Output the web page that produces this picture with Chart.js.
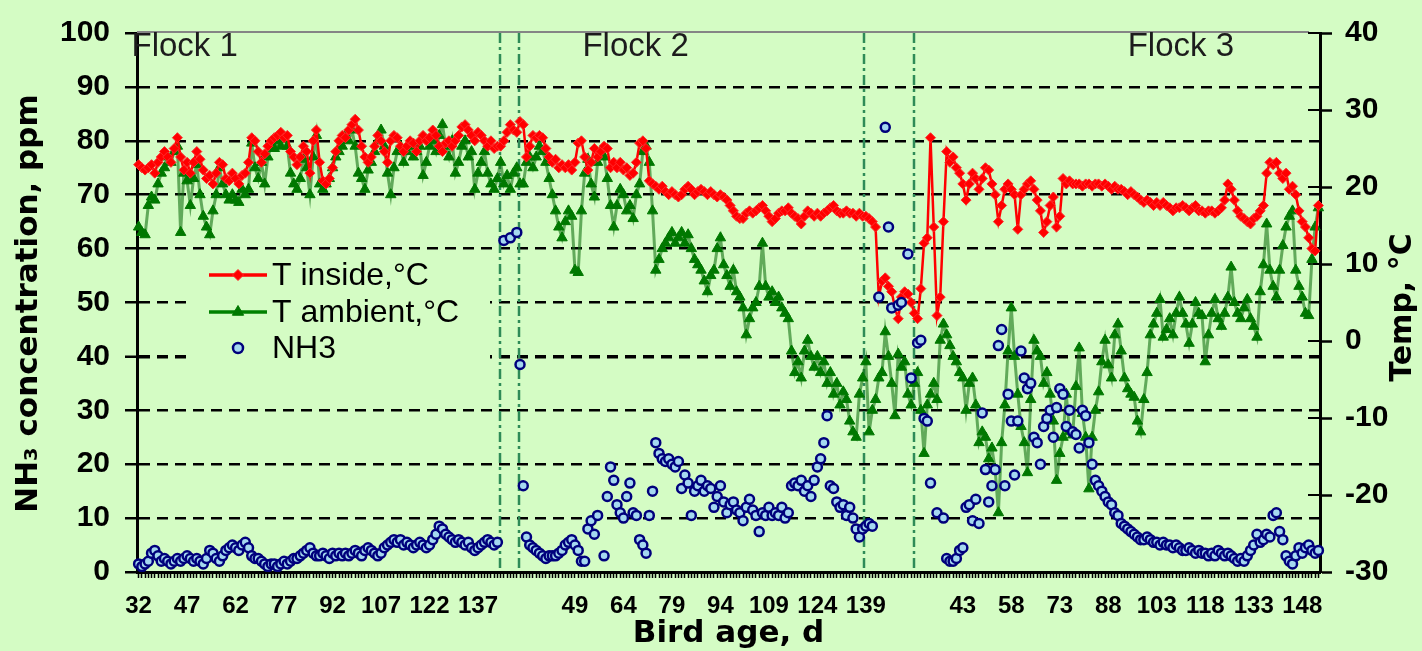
<!DOCTYPE html>
<html>
<head>
<meta charset="utf-8">
<title>NH3 and temperature by bird age</title>
<script src="https://cdn.jsdelivr.net/npm/chart.js@4.4.1/dist/chart.umd.min.js"></script>
<style>
  html, body { margin: 0; padding: 0; background: rgb(212, 252, 196); }
  canvas { display: block; }
</style>
</head>
<body>
<canvas id="chart" width="1422" height="651"></canvas>
<script>
// Bird age (days) on the category axis: first and last age of each flock,
// with empty slots between consecutive flocks.
const flockAges = [[32, 143], [35, 153], [29, 153]];
const gapSlots = [9, 1];

// Category positions of the flock separators and of the flock titles.
const flockBreaks = [111.7, 117.8, 224.3, 240];
const flockTitles = ['Flock 1', 'Flock 2', 'Flock 3'];
const flockTitleAt = [-2.2, 137.3, 306];

// Inside air temperature, °C (one value per day)
const tInside = [
  22.9, 22.5, 22.2, 22.5, 22.9, 21.8, 23.2, 23.9, 24.6, 23.9,
  23.2, 25.0, 26.4, 23.9, 22.2, 23.2, 21.8, 23.2, 24.6, 23.6,
  22.2, 21.1, 21.5, 20.4, 21.8, 23.2, 22.9, 21.1, 20.8, 21.8,
  21.1, 20.4, 21.5, 21.8, 23.2, 26.4, 26.0, 24.6, 23.2, 24.3,
  25.3, 26.0, 26.4, 26.7, 27.1, 26.4, 26.7, 24.6, 23.9, 22.9,
  23.9, 25.3, 24.6, 21.8, 26.0, 27.4, 23.2, 20.8, 20.4, 21.1,
  22.5, 24.6, 26.0, 26.7, 26.4, 27.4, 28.1, 28.8, 27.4, 25.3,
  23.9, 23.2, 23.9, 25.3, 26.7, 26.0, 24.6, 23.2, 26.0, 26.7,
  26.4, 25.3, 24.6, 25.3, 26.0, 25.7, 24.6, 26.0, 26.7, 26.0,
  26.4, 27.4, 26.7, 25.3, 24.6, 25.7, 26.0, 25.3, 26.0, 26.7,
  27.8, 28.1, 27.4, 26.7, 26.0, 27.1, 26.7, 26.0, 25.3, 26.0,
  25.0, 25.3, 25.3, 26.0, 27.1, 28.1, 27.4, 27.1, 28.5, 28.1,
  23.9, 25.3, 26.7, 26.4, 26.7, 26.4, 25.0, 23.9, 23.2, 23.6,
  22.5, 22.9, 22.5, 22.9, 22.2, 23.2, 25.7, 26.0, 23.9, 22.2,
  23.2, 25.0, 23.9, 24.6, 25.3, 25.0, 22.5, 23.2, 22.5, 23.2,
  22.2, 22.5, 21.5, 21.8, 23.2, 25.7, 26.0, 25.0, 20.8, 20.4,
  20.1, 19.7, 20.1, 19.4, 19.0, 19.4, 19.0, 18.7, 19.0, 19.7,
  20.1, 19.7, 19.0, 19.4, 19.7, 19.4, 19.0, 19.4, 19.0, 18.7,
  19.0, 18.7, 18.3, 17.6, 16.9, 16.2, 15.9, 15.9, 16.6, 16.9,
  16.6, 16.9, 17.3, 17.6, 16.9, 16.2, 15.5, 15.9, 16.6, 16.9,
  16.9, 17.3, 16.6, 16.2, 15.9, 15.2, 16.2, 16.9, 16.6, 16.2,
  16.6, 16.2, 16.6, 16.9, 17.3, 17.6, 16.9, 16.6, 16.6, 16.9,
  16.6, 16.6, 16.2, 16.6, 16.2, 16.2, 15.9, 15.5, 14.8, 5.7,
  7.8, 8.2, 7.1, 6.4, 4.3, 2.9, 5.7, 6.4, 6.1, 5.0,
  3.6, 2.9, 6.8, 12.7, 13.4, 26.4, 14.8, 3.3, 5.7, 15.5,
  24.6, 23.2, 23.9, 22.5, 21.8, 20.4, 18.3, 20.4, 21.8, 21.1,
  19.7, 21.1, 22.5, 22.2, 20.4, 19.0, 15.5, 17.6, 19.7, 20.4,
  19.7, 19.0, 14.5, 19.0, 19.7, 20.4, 20.8, 19.7, 18.3, 16.9,
  14.1, 15.5, 17.6, 18.7, 14.8, 16.2, 21.1, 20.4, 20.8, 20.4,
  20.4, 20.4, 20.1, 20.4, 20.4, 20.1, 20.4, 20.4, 20.1, 20.4,
  20.1, 19.7, 20.1, 19.7, 19.7, 19.4, 19.0, 19.4, 19.0, 18.7,
  18.3, 18.0, 18.3, 18.0, 17.6, 18.0, 17.6, 18.0, 17.6, 17.3,
  16.9, 17.3, 17.3, 17.6, 17.3, 16.9, 17.3, 17.6, 16.9, 16.9,
  16.6, 16.9, 16.9, 16.6, 16.9, 17.3, 18.3, 20.4, 19.7, 18.3,
  16.9, 16.2, 15.9, 15.5, 15.2, 15.9, 16.2, 16.9, 17.6, 21.8,
  23.2, 22.9, 23.2, 21.8, 21.1, 21.8, 19.7, 20.1, 19.0, 16.9,
  15.5, 14.8, 13.4, 12.0, 11.7, 17.6
];

// Outside (ambient) air temperature, °C
const tAmbient = [
  14.8, 14.1, 13.8, 17.6, 18.7, 18.3, 20.4, 21.8, 22.5, 23.9,
  23.2, 24.6, 25.3, 14.1, 21.8, 20.8, 17.6, 21.1, 22.9, 19.0,
  16.2, 14.8, 13.8, 16.9, 19.0, 22.5, 20.4, 19.0, 18.3, 19.0,
  18.3, 18.0, 19.7, 19.0, 19.7, 25.7, 22.5, 21.1, 23.2, 20.4,
  23.9, 25.3, 25.0, 26.0, 25.3, 26.4, 25.3, 21.8, 20.4, 19.7,
  21.1, 23.6, 22.5, 19.0, 23.9, 26.7, 20.4, 19.7, 20.4, 21.1,
  22.5, 23.9, 24.6, 25.3, 26.7, 26.0, 27.4, 25.3, 21.8, 21.1,
  19.7, 22.2, 23.2, 24.6, 26.0, 27.4, 25.3, 21.8, 19.0, 22.5,
  24.6, 25.3, 23.2, 24.6, 25.3, 23.9, 24.6, 25.3, 21.5, 23.2,
  25.3, 26.0, 24.6, 26.7, 28.1, 25.3, 23.9, 26.0, 21.8, 23.2,
  25.3, 26.0, 23.9, 24.6, 19.7, 21.8, 23.2, 24.6, 21.8, 20.4,
  19.7, 21.1, 23.2, 20.4, 21.5, 19.7, 21.8, 22.5, 20.4, 20.4,
  23.2, 23.9, 22.5, 23.9, 25.3, 24.6, 23.2, 21.1, 19.0, 16.9,
  14.8, 13.4, 15.5, 16.9, 16.2, 9.2, 8.9, 16.9, 21.8, 23.6,
  20.4, 18.7, 23.2, 24.6, 23.9, 21.1, 17.6, 14.8, 17.6, 19.7,
  19.0, 16.9, 17.6, 15.9, 19.0, 20.4, 24.6, 25.3, 23.2, 16.9,
  9.2, 10.6, 12.0, 12.7, 13.4, 14.1, 12.7, 13.4, 14.1, 12.7,
  13.8, 12.0, 10.6, 9.9, 9.2, 7.8, 6.4, 8.5, 9.2, 12.0,
  13.4, 9.9, 8.5, 7.1, 9.2, 6.4, 5.7, 4.3, 0.8, 2.9,
  4.3, 5.0, 7.1, 12.7, 7.1, 5.7, 6.4, 5.0, 5.7, 4.3,
  3.6, 2.9, -1.3, -4.1, -2.7, -4.8, -1.3, 0.1, -2.0, -3.4,
  -2.0, -4.1, -2.7, -5.5, -4.1, -6.9, -5.5, -8.3, -6.6, -7.6,
  -10.4, -11.8, -12.5, -6.9, -4.8, -2.7, -11.8, -9.0, -7.6, -4.8,
  -4.1, 1.2, -2.0, -5.5, -9.7, -1.7, -3.4, -2.7, -6.9, -8.3,
  -5.5, -4.1, -9.0, -14.6, -8.3, -6.9, -5.5, -7.6, 0.1, 2.2,
  0.8, -0.6, -2.0, -2.7, -4.1, -4.8, -9.0, -5.5, -4.8, -8.3,
  -13.2, -11.8, -12.5, -15.3, -13.9, -16.7, -22.3, -13.2, -8.3, -1.3,
  4.3, -2.0, -6.9, -11.1, -13.2, -17.1, -7.6, 0.1, -1.3, -2.0,
  -5.5, -4.1, -6.9, -10.4, -18.1, -14.6, -12.5, -6.9, -11.8, -12.2,
  -5.9, -0.9, -9.4, -12.5, -19.2, -12.5, -9.0, -6.6, -2.7, 0.1,
  -3.1, -4.8, 0.8, 2.2, -1.3, -4.8, -6.2, -6.9, -7.3, -10.4,
  -11.8, -7.6, -4.1, 0.8, 2.2, 3.6, 5.4, 0.5, 1.5, 2.9,
  0.8, 3.6, 5.7, 3.6, 2.2, -0.3, 2.2, 5.0, 3.6, 3.3,
  -2.7, 0.8, 3.6, 5.4, 2.9, 1.9, 3.6, 5.7, 9.6, 5.0,
  3.6, 2.9, 4.3, 5.4, 2.9, 1.9, 0.5, 6.4, 9.9, 15.2,
  9.2, 7.1, 5.7, 9.2, 12.4, 14.8, 16.2, 16.9, 9.2, 7.1,
  5.7, 3.6, 3.3, 10.6, 14.8, 17.3
];

// NH3 concentration, ppm (null = no reading that day)
const nh3 = [
  1.5, 1, 1.5, 2, 3.5, 4, 3, 2, 2.5, 2,
  1.5, 2, 2.5, 2, 2.5, 3, 2.5, 2, 2.5, 2,
  1.5, 2.5, 4, 3.5, 2.5, 2, 3, 4, 4.5, 5,
  4.5, 4, 5, 5.5, 4.5, 3, 2.5, 2.5, 2, 1.5,
  1, 1.5, 1.5, 1, 1.5, 2, 1.5, 2, 2.5, 2.5,
  3, 3.5, 4, 4.5, 3.5, 3, 3, 3.5, 3, 2.5,
  3.5, 3, 3.5, 3, 3.5, 3, 3.5, 4, 3.5, 3,
  4, 4.5, 4, 3.5, 3, 3.5, 4.5, 5, 5.5, 6,
  5.5, 6, 5, 5.5, 5, 4.5, 5, 5.5, 5, 4.5,
  5, 6, 7, 8.5, 8, 7, 6.5, 6, 5.5, 6,
  5.5, 5, 5.5, 4.5, 4, 4.5, 5, 5.5, 6, 5.5,
  5, 5.5, null, 61.5, null, 62, null, 63, 38.5, 16,
  6.5, 5, 4.5, 4, 3.5, 3, 2.5, 3, 3, 3,
  3.5, 4, 5, 5.5, 6, 5, 4, 2, 2, 8,
  9.5, 7, 10.5, null, 3, 14, 19.5, 17, 12.5, 11,
  10, 14, 16.5, 11, 10.5, 6, 5, 3.5, 10.5, 15,
  24, 22, 21, 20.5, 21, 20, 19.5, 20.5, 15.5, 18,
  16.5, 10.5, 15, 16, 17, 15, 16, 15.5, 12, 14,
  16, 13, 11, 12.5, 13, 11.5, 11, 9.5, 12, 13.5,
  11.5, 10.5, 7.5, 11, 10.5, 12, 10.5, 11, 10.5, 12,
  10, 11, 16, 16.5, 16, 17, 15, 16, 14, 17,
  19.5, 21, 24, 29, 16, 15.5, 13, 12, 12.5, 10.5,
  12, 10, 8, 6.5, 8, 8.5, 9, 8.5, null, 51,
  null, 82.5, 64, 49, null, 49.5, 50, null, 59, 36,
  null, 42.5, 43, 28.5, 28, 16.5, null, 11, null, 10,
  2.5, 2, 2, 2.5, 4, 4.5, 12, 12.5, 9.5, 13.5,
  9, 29.5, 19, 13, 16, 19, 42, 45, 16, 33,
  28, 18, 28, 41, 36, 34, 35, 25, 24, 20,
  27, 28.5, 30, 25, 30.5, 34, 33, 27, 30, 26,
  25.5, 23, 30, 29, 24, 20, 17, 16, 15, 14,
  13, 12.5, 11, 10.5, 9, 8.5, 8, 7.5, 7, 6.5,
  6, 6, 6.5, 6, 5.5, 5.5, 5, 5.5, 5, 5,
  4.5, 5, 4.5, 4, 4, 4.5, 4, 3.5, 4, 3.5,
  3.5, 3, 3.5, 3, 4, 3.5, 3, 3.5, 3, 2.5,
  2, 2.5, 2, 3, 4, 5, 7, 5.5, 6, 7,
  6.5, 10.5, 11, 7.5, 6, 3, 2, 1.5, 3, 4.5,
  3.5, 4.5, 5, 4, 3.5, 4
];

// Category labels: consecutive ages per flock, blanks in between
const ageLabels = [];
flockAges.forEach(([first, last], k) => {
  for (let d = first; d <= last; d++) ageLabels.push(String(d));
  if (k < gapSlots.length) for (let g = 0; g < gapSlots[k]; g++) ageLabels.push('');
});

const BG = 'rgb(212, 252, 196)';
const TICK_FONT = "'Liberation Sans', Arial, sans-serif";
const TITLE_FONT = "'DejaVu Sans', Verdana, sans-serif";

const decor = {
  id: 'decor',
  beforeDraw(chart) {
    const { ctx, width, height } = chart;
    ctx.save();
    ctx.fillStyle = BG;
    ctx.fillRect(0, 0, width, height);
    ctx.restore();
  },
  beforeDatasetsDraw(chart) {
    const { ctx, chartArea: a, scales } = chart;
    const x = scales.x, yT = scales.yT;
    ctx.save();

    // grey frame along the top of the plot area
    ctx.strokeStyle = '#858585';
    ctx.lineWidth = 2;
    ctx.beginPath();
    ctx.moveTo(a.left, a.top - 1);
    ctx.lineTo(a.right - 11, a.top - 1);
    ctx.stroke();

    // inner half of the right-axis tick marks
    ctx.strokeStyle = '#000';
    ctx.lineWidth = 2;
    yT.ticks.forEach(t => {
      const py = Math.round(yT.getPixelForValue(t.value));
      ctx.beginPath();
      ctx.moveTo(a.right - 12, py);
      ctx.lineTo(a.right, py);
      ctx.stroke();
    });

    // dash-dot separators between flocks
    ctx.strokeStyle = '#2e8b57';
    ctx.lineWidth = 2.5;
    ctx.setLineDash([10, 4, 3, 4]);
    flockBreaks.forEach(v => {
      const px = Math.round(x.getPixelForValue(v));
      ctx.beginPath();
      ctx.moveTo(px, a.top);
      ctx.lineTo(px, a.bottom);
      ctx.stroke();
    });
    ctx.setLineDash([]);

    // legend box (opaque, hides the grid behind it)
    ctx.fillStyle = BG;
    ctx.fillRect(190, 256, 300, 112);
    const ds = chart.data.datasets;
    const rows = [275, 312, 348];
    ctx.font = "32px " + TICK_FONT;
    ctx.textBaseline = 'middle';
    ctx.textAlign = 'left';
    ds.forEach((d, i) => {
      const y = rows[i];
      if (d.showLine !== false) {
        ctx.strokeStyle = d.legendLine;
        ctx.lineWidth = 3.5;
        ctx.beginPath();
        ctx.moveTo(209, y);
        ctx.lineTo(267, y);
        ctx.stroke();
      }
      ctx.fillStyle = d.pointBackgroundColor;
      ctx.strokeStyle = d.pointBorderColor;
      ctx.lineWidth = d.pointBorderWidth;
      Chart.helpers.drawPoint(ctx, {
        pointStyle: d.pointStyle, radius: d.pointRadius + 0.5,
        rotation: 0, borderWidth: d.pointBorderWidth
      }, 238, y);
      ctx.fillStyle = '#000';
      ctx.fillText(d.label, 272, y + 1);
    });
    ctx.restore();
  },
  afterDraw(chart) {
    const { ctx, chartArea: a, scales } = chart;
    const x = scales.x;
    ctx.save();

    // flock titles
    ctx.fillStyle = '#1c1c1c';
    ctx.font = "33px " + TICK_FONT;
    ctx.textAlign = 'left';
    ctx.textBaseline = 'alphabetic';
    flockTitles.forEach((t, i) => {
      ctx.fillText(t, x.getPixelForValue(flockTitleAt[i]), 56);
    });

    // axis titles
    ctx.fillStyle = '#000';
    ctx.textAlign = 'center';
    ctx.textBaseline = 'middle';
    ctx.font = "bold 31px " + TITLE_FONT;
    ctx.fillText('Bird age, d', (a.left + a.right) / 2, 634);

    ctx.save();
    ctx.translate(29, (a.top + a.bottom) / 2 + 1);
    ctx.rotate(-Math.PI / 2);
    ctx.fillText('NH\u2083 concentration, ppm', 0, 0);
    ctx.restore();

    ctx.save();
    ctx.translate(1403, (a.top + a.bottom) / 2 + 5);
    ctx.rotate(-Math.PI / 2);
    ctx.font = "bold 30px " + TITLE_FONT;
    ctx.fillText('Temp, \u00B0C', 0, 0);
    ctx.restore();

    ctx.restore();
  }
};

new Chart(document.getElementById('chart'), {
  type: 'line',
  data: {
    labels: ageLabels,
    datasets: [
      {
        label: 'T inside,\u00B0C',
        data: tInside,
        yAxisID: 'yT',
        order: 2,
        borderColor: '#ff0000',
        legendLine: '#ff0000',
        borderWidth: 2.5,
        pointStyle: 'rectRot',
        pointRadius: 5,
        pointBorderWidth: 1,
        pointBackgroundColor: '#ff0000',
        pointBorderColor: '#ff2a2a',
        tension: 0
      },
      {
        label: 'T ambient,\u00B0C',
        data: tAmbient,
        yAxisID: 'yT',
        order: 3,
        borderColor: 'rgba(20, 115, 20, 0.6)',
        legendLine: '#008000',
        borderWidth: 3,
        pointStyle: 'triangle',
        pointRadius: 6,
        pointBorderWidth: 1,
        pointBackgroundColor: '#007800',
        pointBorderColor: '#007800',
        tension: 0
      },
      {
        label: 'NH3',
        data: nh3,
        yAxisID: 'yN',
        order: 1,
        showLine: false,
        pointStyle: 'circle',
        pointRadius: 4.5,
        pointBorderWidth: 2.5,
        pointBackgroundColor: '#a4d8f0',
        pointBorderColor: '#00007c'
      }
    ]
  },
  options: {
    responsive: false,
    animation: false,
    devicePixelRatio: 1,
    layout: { padding: { top: 22, left: 0, right: 0, bottom: 0 } },
    plugins: { legend: { display: false }, tooltip: { enabled: false } },
    events: [],
    scales: {
      x: {
        type: 'category',
        offset: true,
        grid: { drawOnChartArea: false, tickLength: 6, tickColor: '#000', tickWidth: 1.5 },
        border: { color: '#000', width: 3 },
        ticks: {
          autoSkip: false, maxRotation: 0, minRotation: 0, padding: 14,
          color: '#000',
          font: { family: TICK_FONT, size: 24, weight: 'bold' },
          callback: (v, i) => (i % 15 === 0 ? ageLabels[i] : '')
        },
        afterFit: s => { s.height = 79; }
      },
      yN: {
        position: 'left',
        min: 0, max: 100,
        grid: {
          color: c => (c.tick && (c.tick.value === 0 || c.tick.value === 100)) ? 'rgba(0,0,0,0)' : '#000',
          lineWidth: c => (c.tick && c.tick.value === 40) ? 3.5 : 2.5,
          tickLength: 12, tickColor: '#000', tickWidth: 2.5
        },
        border: { color: '#000', width: 3, dash: [11, 7] },
        ticks: {
          stepSize: 10, padding: 15, color: '#000',
          font: { family: TICK_FONT, size: 30, weight: 'bold' }
        },
        afterFit: s => { s.width = 137; }
      },
      yT: {
        position: 'right',
        min: -30, max: 40,
        grid: { drawOnChartArea: false, tickLength: 12, tickColor: '#000', tickWidth: 2.5 },
        border: { color: '#000', width: 3 },
        ticks: {
          stepSize: 10, padding: 13, color: '#000',
          font: { family: TICK_FONT, size: 30, weight: 'bold' }
        },
        afterFit: s => { s.width = 102; }
      }
    }
  },
  plugins: [decor]
});
</script>
</body>
</html>
